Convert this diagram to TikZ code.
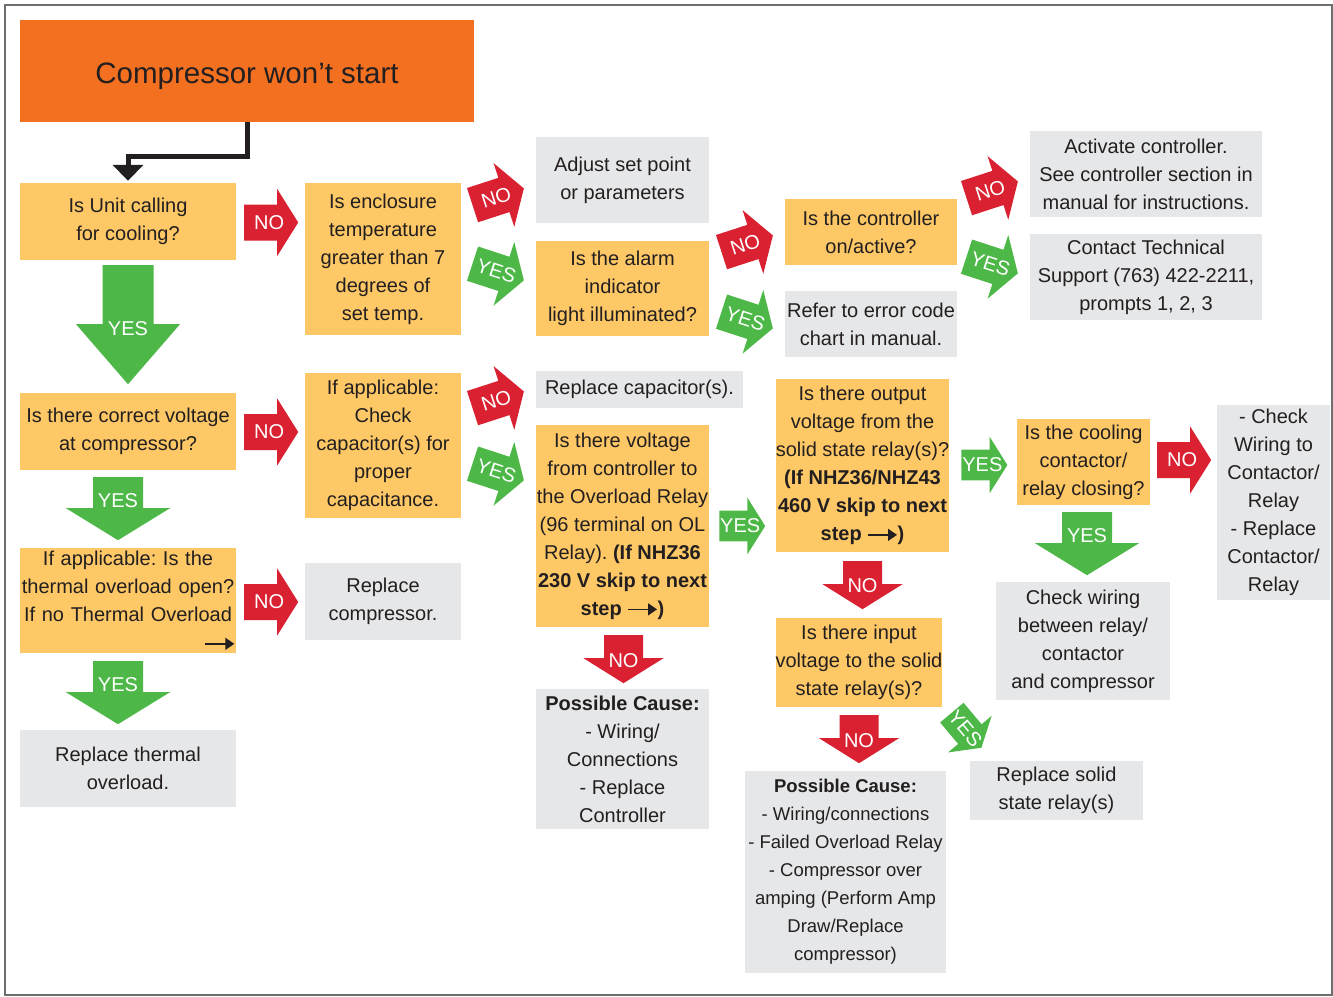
\documentclass[tikz,border=0pt]{standalone}
\usepackage{fontspec}
\setmainfont{Liberation Sans}
\usepackage{xcolor}
\usepackage{tikz}
\usetikzlibrary{arrows.meta, positioning, calc}
\definecolor{titleorange}{RGB}{243, 112, 33}
\definecolor{askyellow}{RGB}{253, 200, 101}
\definecolor{actiongray}{RGB}{230, 231, 232}
\definecolor{noRed}{RGB}{218, 33, 49}
\definecolor{yesgreen}{RGB}{77, 184, 72}
\definecolor{inkblack}{RGB}{35, 31, 32}
\definecolor{framegray}{RGB}{110, 110, 110}

\frenchspacing
\newcommand{\flowfont}{\fontsize{20}{28}\selectfont}
\newcommand{\nextstep}{\tikz[baseline=-0.55ex]\draw[inkblack, line width=1.4pt, -{Triangle[length=9pt,width=12pt]}] (0pt,0pt) -- (29pt,0pt);}

\tikzset{
    pics/rblock/.style n args={4}{code={
        \begin{scope}[rotate=#1]
            \fill[#2, scale=#4] (-27,-18) -- (6,-18) -- (6,-33.5) -- (27,0) -- (6,33.5) -- (6,18) -- (-27,18) -- cycle;
            \node[blocklabel, rotate=#1] (-lbl) at (-2,0) {#3};
        \end{scope}}},
    pics/dblock/.style n args={7}{code={
        \fill[#5] (-#1,0) -- (#1,0) -- (#1,#2) -- (#3,#2) -- (0,{#2+#4}) -- (-#3,#2) -- (-#1,#2) -- cycle;
        \node[blocklabel] (-lbl) at (0,#7) {#6};
    }}
}

\begin{document}
\begin{tikzpicture}[x=1pt, y=-1pt,
    ask/.style={fill=askyellow, text=inkblack, inner sep=0pt, align=center, font=\flowfont},
    act/.style={fill=actiongray, text=inkblack, inner sep=0pt, align=center, font=\flowfont},
    boxsize/.style 2 args={minimum width=#1pt, minimum height=#2pt},
    blocklabel/.style={text=white, inner sep=0pt, font=\fontsize{20}{24}\selectfont}
]
    \useasboundingbox (0,0) rectangle (1333,996);
    \draw[framegray, line width=1.3pt] (5,5) rectangle (1332,995);

    % Start
    \node[fill=titleorange, text=inkblack, boxsize={454}{102}, font=\fontsize{29.5}{34}\selectfont] (start) at (247,71) {\raisebox{-5pt}[\height][\depth]{Compressor won’t start}};

    % Column 1
    \node[ask, boxsize={216}{77}] (calling) at (128,221.5) {Is Unit calling\\for cooling?};
    \node[ask, boxsize={216}{77}] (voltage) at (128,431.5) {Is there correct voltage\\at compressor?};
    \node[ask, boxsize={216}{105}, text width=214pt] (overload) at (128,600.5) {If applicable: Is the\\thermal overload open?\\If no Thermal Overload\\\hfill\nextstep};
    \node[act, boxsize={216}{77}] (replovl) at (128,768.5) {Replace thermal\\overload.};

    % Column 2
    \node[ask, boxsize={156}{152}] (enclosure) at (383,259) {Is enclosure\\temperature\\greater than 7\\degrees of\\set temp.};
    \node[ask, boxsize={156}{145}] (capcheck) at (383,445.5) {If applicable:\\Check\\capacitor(s) for\\proper\\capacitance.};
    \node[act, boxsize={156}{77}] (replcomp) at (383,601.5) {Replace\\compressor.};

    % Column 3
    \node[act, boxsize={173}{86}] (adjust) at (622.5,180) {Adjust set point\\or parameters};
    \node[ask, boxsize={173}{95}] (alarm) at (622.5,288.5) {Is the alarm\\indicator\\light illuminated?};
    \node[act, boxsize={207}{37}] (replcap) at (639.5,389.5) {Replace capacitor(s).};
    \node[ask, boxsize={173}{202}] (olrelay) at (622.5,526) {Is there voltage\\from controller to\\the Overload Relay\\(96 terminal on OL\\Relay). \textbf{(If NHZ36}\\\textbf{230 V skip to next}\\\textbf{step \nextstep)}};
    \node[act, boxsize={173}{140}] (cause1) at (622.5,759) {\textbf{Possible Cause:}\\- Wiring/\\Connections\\- Replace\\Controller};

    % Column 4
    \node[ask, boxsize={172}{66}] (ctrlon) at (871,232) {Is the controller\\on/active?};
    \node[act, boxsize={172}{66}] (errcode) at (871,324) {Refer to error code\\chart in manual.};
    \node[ask, boxsize={173}{173}] (ssrout) at (862.5,465.5) {Is there output\\voltage from the\\solid state relay(s)?\\\textbf{(If NHZ36/NHZ43}\\\textbf{460 V skip to next}\\\textbf{step \nextstep)}};
    \node[ask, boxsize={166}{89}] (ssrin) at (859,662.5) {Is there input\\voltage to the solid\\state relay(s)?};
    \node[act, boxsize={201}{202}, font=\fontsize{18.5}{28}\selectfont] (cause2) at (845.5,872) {\textbf{Possible Cause:}\\- Wiring/connections\\- Failed Overload Relay\\- Compressor over\\amping (Perform Amp\\Draw/Replace\\compressor)};

    % Column 5
    \node[act, boxsize={232}{86}] (activate) at (1146,174) {Activate controller.\\See controller section in\\manual for instructions.};
    \node[act, boxsize={232}{86}] (support) at (1146,277) {Contact Technical\\Support (763) 422-2211,\\prompts 1, 2, 3};
    \node[ask, boxsize={133}{86}] (contactor) at (1083.5,462) {Is the cooling\\contactor/\\relay closing?};
    \node[act, boxsize={174}{118}] (checkwire) at (1083,641) {Check wiring\\between relay/\\contactor\\and compressor};
    \node[act, boxsize={173}{59}] (replssr) at (1056.5,790.5) {Replace solid\\state relay(s)};
    \node[act, boxsize={113}{195}] (checkcont) at (1273.5,502.5) {- Check\\Wiring to\\Contactor/\\Relay\\- Replace\\Contactor/\\Relay};

    % Start connector
    \coordinate (bend) at (247,156);
    \draw[inkblack, line width=5pt, -{Triangle[length=16pt,width=30pt]}, shorten >=2pt] (start.south) -- (bend) -| (calling.north);

    % Block arrows
    \pic (no1) at ($(calling.east)+(35,1)$) {rblock={0}{noRed}{NO}{1}};
    \pic (no2) at ($(voltage.east)+(35,0.5)$) {rblock={0}{noRed}{NO}{1}};
    \pic (no3) at ($(overload.east)+(35,1.5)$) {rblock={0}{noRed}{NO}{1}};
    \pic (no4) at ($(enclosure.north east)+(37,14)$) {rblock={18}{noRed}{NO}{1}};
    \pic (yes4) at ($(enclosure.east)+(37,13)$) {rblock={-18}{yesgreen}{YES}{1}};
    \pic (no5) at ($(capcheck.north east)+(37,27)$) {rblock={18}{noRed}{NO}{1}};
    \pic (yes5) at ($(capcheck.east)+(37,26.5)$) {rblock={-18}{yesgreen}{YES}{1}};
    \pic (no6) at ($(alarm.north east)+(38,3)$) {rblock={18}{noRed}{NO}{1}};
    \pic (yes6) at ($(alarm.east)+(38,31.5)$) {rblock={-18}{yesgreen}{YES}{1}};
    \pic (no7) at ($(ctrlon.north east)+(35,-9)$) {rblock={18}{noRed}{NO}{1}};
    \pic (yes7) at ($(ctrlon.east)+(35,33)$) {rblock={-18}{yesgreen}{YES}{1}};
    \pic (yes8) at ($(olrelay.east)+(33,0)$) {rblock={0}{yesgreen}{YES}{0.85}};
    \pic (yes9) at ($(ssrout.east)+(35,-0.5)$) {rblock={0}{yesgreen}{YES}{0.85}};
    \pic (no9) at ($(contactor.east)+(34,-2)$) {rblock={0}{noRed}{NO}{1}};
    \pic (yes10) at ($(ssrin.south east)+(24,23)$) {rblock={-50}{yesgreen}{YES}{0.85}};

    \pic (yes1) at ($(calling.south)+(0,5)$) {dblock={25.5}{59}{52}{60}{yesgreen}{YES}{63}};
    \pic (yes2) at ($(voltage.south)+(-10,7)$) {dblock={25}{31}{52}{32}{yesgreen}{YES}{23}};
    \pic (yes3) at ($(overload.south)+(-10,8)$) {dblock={25}{31}{52}{32}{yesgreen}{YES}{23}};
    \pic (no8) at ($(olrelay.south)+(1,8)$) {dblock={19.5}{23}{40}{25}{noRed}{NO}{25}};
    \pic (no10) at ($(ssrout.south)+(0,9)$) {dblock={19.5}{23}{40}{25}{noRed}{NO}{24}};
    \pic (no11) at ($(ssrin.south)+(0,8)$) {dblock={19.5}{23}{40}{25}{noRed}{NO}{25}};
    \pic (yes11) at ($(contactor.south)+(3.5,7)$) {dblock={25}{31}{52}{32}{yesgreen}{YES}{23}};
\end{tikzpicture}
\end{document}
